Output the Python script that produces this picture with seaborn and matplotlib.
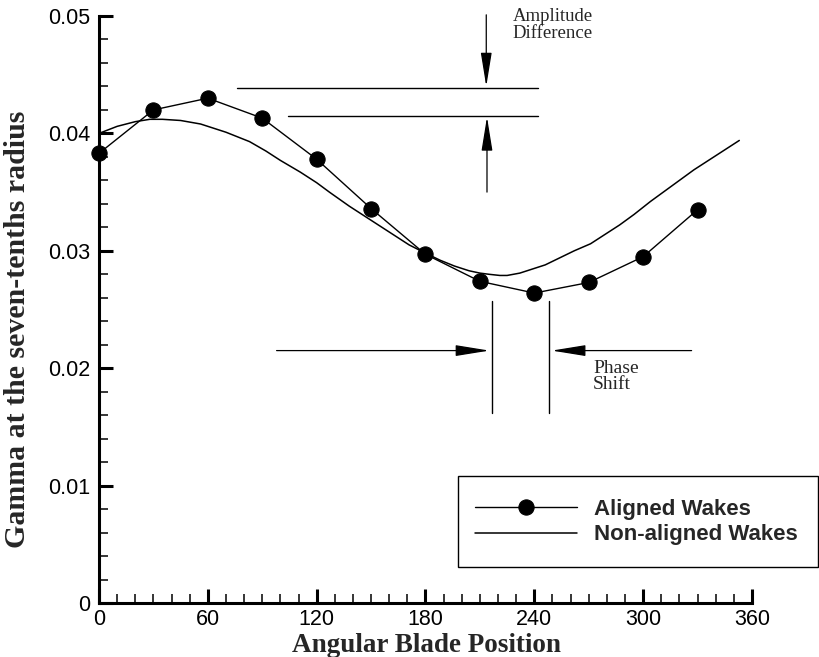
import numpy as np
import pandas as pd
import matplotlib
matplotlib.use("Agg")
import matplotlib.pyplot as plt
from matplotlib.patches import Rectangle
from matplotlib.ticker import MultipleLocator
import seaborn as sns

# ---------------- data ----------------
angle_aligned = [0, 30, 60, 90, 120, 150, 180, 210, 240, 270, 300, 330]
gamma_aligned = [0.0383, 0.0420, 0.0430, 0.0413, 0.0378, 0.0336, 0.0297,
                 0.0274, 0.0264, 0.0273, 0.0295, 0.0335]

angle_nonaligned = [0, 10, 20, 28, 35, 45, 56, 70, 83, 92, 100, 111, 120,
                    127, 138, 147, 155, 163, 171, 180, 188, 196, 204, 210,
                    215, 221, 225, 232, 238, 246, 254, 262, 271, 279, 287,
                    295, 304, 312, 320, 328, 337, 345, 353]
gamma_nonaligned = [0.0400, 0.0406, 0.0410, 0.0412, 0.0412, 0.0411, 0.0408,
                    0.0401, 0.0393, 0.0385, 0.0377, 0.0367, 0.0358, 0.0350,
                    0.0338, 0.0329, 0.0321, 0.0313, 0.0305, 0.0298, 0.0292,
                    0.0287, 0.0283, 0.0281, 0.0280, 0.0279, 0.0279, 0.0281,
                    0.0284, 0.0288, 0.0294, 0.0300, 0.0306, 0.0314, 0.0322,
                    0.0331, 0.0342, 0.0351, 0.0360, 0.0369, 0.0378, 0.0386,
                    0.0394]

x_ticks = [0, 60, 120, 180, 240, 300, 360]
x_tick_labels = ["0", "60", "120", "180", "240", "300", "360"]
y_ticks = [0.0, 0.01, 0.02, 0.03, 0.04, 0.05]
y_tick_labels = ["0", "0.01", "0.02", "0.03", "0.04", "0.05"]

series_names = ["Aligned Wakes", "Non-aligned Wakes"]
x_title = "Angular Blade Position"
y_title = "Gamma at the seven-tenths radius"
amp_text = "Amplitude\nDifference"
phase_text = "Phase\nShift"

# ---------------- figure ----------------
sns.set_theme(style="ticks")
plt.rcParams["font.family"] = ["Liberation Sans", "DejaVu Sans"]

W, H = 820, 657
fig = plt.figure(figsize=(W / 100, H / 100), dpi=100)
ax = fig.add_axes([99 / W, 1 - 603 / H, (752 - 99) / W, (603 - 16) / H])

df_a = pd.DataFrame({"angle": angle_aligned, "gamma": gamma_aligned})
df_n = pd.DataFrame({"angle": angle_nonaligned, "gamma": gamma_nonaligned})

sns.lineplot(data=df_a, x="angle", y="gamma", ax=ax, color="black", lw=1.0,
             marker="o", markersize=11, markeredgecolor="black",
             markerfacecolor="black", label=series_names[0], clip_on=False,
             zorder=3)
sns.lineplot(data=df_n, x="angle", y="gamma", ax=ax, color="black", lw=1.1,
             label=series_names[1], clip_on=False, zorder=3)

ax.set_xlim(0, 360)
ax.set_ylim(0, 0.05)
ax.set_xticks(x_ticks)
ax.set_xticklabels(x_tick_labels)
ax.set_yticks(y_ticks)
ax.set_yticklabels(y_tick_labels)
ax.xaxis.set_minor_locator(MultipleLocator(10))
ax.yaxis.set_minor_locator(MultipleLocator(0.002))

for s in ["top", "right"]:
    ax.spines[s].set_visible(False)
for s in ["left", "bottom"]:
    ax.spines[s].set_linewidth(2.2)
    ax.spines[s].set_color("black")

ax.tick_params(which="major", direction="in", length=10, width=2.2,
               color="black", labelsize=15.5, pad=6, labelcolor="black")
ax.tick_params(axis="x", which="major", pad=4)
ax.tick_params(which="minor", direction="in", length=6.5, width=1.1,
               color="black")
ax.set_xlabel("")
ax.set_ylabel("")

serif = ["Liberation Serif", "DejaVu Serif"]
fig.text(426 / W, 1 - 646 / H, x_title, ha="center", va="center",
         fontsize=19.5, fontweight="bold", family=serif)
fig.text(18 / W, 1 - 329 / H, y_title, ha="center", va="center",
         rotation=90, fontsize=21.5, fontweight="bold", family=serif)

# ---------------- annotations ----------------
arrow_kw = dict(arrowstyle="-|>,head_length=2.1,head_width=0.34",
                color="black", lw=0.9, mutation_scale=10,
                shrinkA=0, shrinkB=0)

# amplitude difference
ax.plot([76, 242], [0.0439, 0.0439], color="black", lw=1.0)
ax.plot([104, 242], [0.0415, 0.0415], color="black", lw=1.0)
ax.annotate("", xy=(213.5, 0.0440), xytext=(213.5, 0.0501),
            arrowprops=arrow_kw, annotation_clip=False)
ax.annotate("", xy=(213.9, 0.0414), xytext=(213.9, 0.0350),
            arrowprops=arrow_kw, annotation_clip=False)
ax.text(228.2, 0.0507, amp_text, ha="left", va="top", fontsize=13.5,
        family=serif, linespacing=1.0, clip_on=False)

# phase shift
ax.plot([216.8, 216.8], [0.0162, 0.0257], color="black", lw=1.0)
ax.plot([248.0, 248.0], [0.0162, 0.0257], color="black", lw=1.0)
ax.annotate("", xy=(215.2, 0.0215), xytext=(97.9, 0.0215),
            arrowprops=arrow_kw)
ax.annotate("", xy=(249.6, 0.0215), xytext=(326.7, 0.0215),
            arrowprops=arrow_kw)
ax.text(272.3, 0.0207, phase_text, ha="left", va="top", fontsize=14,
        family=serif, linespacing=0.95)

# ---------------- legend ----------------
fig.patches.append(Rectangle((458 / W, 1 - 567 / H), (818 - 458) / W,
                             (567 - 476) / H, transform=fig.transFigure,
                             fill=False, edgecolor="black", lw=1.0))
leg = ax.legend(loc="upper left", bbox_to_anchor=(475 / W, 1 - 499 / H),
                bbox_transform=fig.transFigure, frameon=False,
                prop={"family": "Liberation Sans", "weight": "bold",
                      "size": 16},
                handlelength=4.6, handletextpad=0.75, labelspacing=0.2,
                borderpad=0, borderaxespad=0)

fig.savefig("out.png", dpi=100)
